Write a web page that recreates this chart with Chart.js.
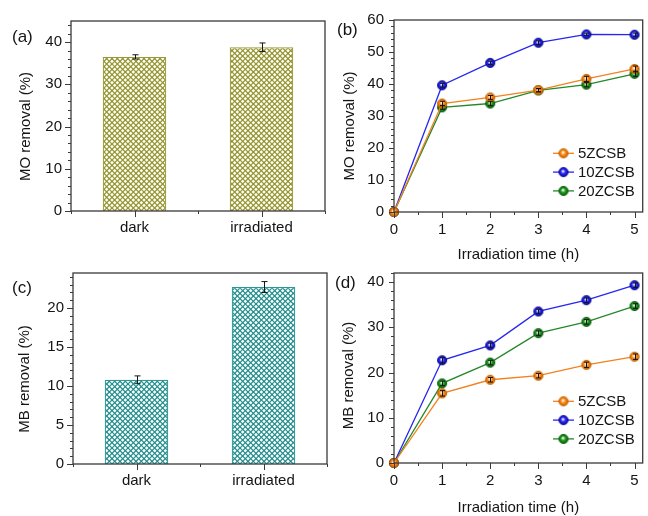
<!DOCTYPE html>
<html>
<head>
<meta charset="utf-8">
<script src="https://cdn.jsdelivr.net/npm/chart.js@4.4.1/dist/chart.umd.min.js"></script>
<style>
  html, body { margin: 0; padding: 0; background: #ffffff; }
  #wrap { position: relative; width: 648px; height: 516px; overflow: hidden; background: #ffffff; }
  #wrap canvas { position: absolute; left: 0; top: 0; }
</style>
</head>
<body>
<div id="wrap">
  <canvas id="panelA" width="648" height="516"></canvas>
  <canvas id="panelB" width="648" height="516"></canvas>
  <canvas id="panelC" width="648" height="516"></canvas>
  <canvas id="panelD" width="648" height="516"></canvas>
</div>
<script>
// ---- data ----
const barCategories = ['dark', 'irradiated'];
const moBarValues = [36.5, 38.8];
const moBarErrors = [0.5, 1.0];
const mbBarValues = [10.8, 22.7];
const mbBarErrors = [0.5, 0.7];

const timeHours = [0, 1, 2, 3, 4, 5];
const seriesNames = ['5ZCSB', '10ZCSB', '20ZCSB'];

const mo5 = [0, 33.9, 35.8, 38.1, 41.6, 44.7];
const mo10 = [0, 39.6, 46.6, 52.9, 55.5, 55.4];
const mo20 = [0, 32.7, 33.9, 38.0, 39.8, 43.2];
const mo5Err = [0, 0.7, 0.6, 0.5, 0.8, 0.9];
const mo10Err = [0, 0.6, 0.5, 0.6, 0.4, 0.5];
const mo20Err = [0, 0.6, 0.7, 0.5, 0.7, 0.8];

const mb5 = [0, 15.4, 18.4, 19.3, 21.7, 23.5];
const mb10 = [0, 22.7, 26.0, 33.5, 36.0, 39.3];
const mb20 = [0, 17.6, 22.2, 28.7, 31.2, 34.7];
const mb5Err = [0, 0.6, 0.5, 0.5, 0.6, 0.6];
const mb10Err = [0, 0.6, 0.5, 0.5, 0.5, 0.5];
const mb20Err = [0, 0.5, 0.5, 0.5, 0.5, 0.5];

const moBarTicks = [0, 10, 20, 30, 40];
const mbBarTicks = [0, 5, 10, 15, 20];
const moLineTicks = [0, 10, 20, 30, 40, 50, 60];
const mbLineTicks = [0, 10, 20, 30, 40];
const hourTicks = [0, 1, 2, 3, 4, 5];

// ---- styling helpers ----
const FONT = '"Liberation Sans", Arial, Helvetica, sans-serif';
const AXIS = '#3a3a3a';
const TEXT = '#141414';

function hatchPattern(color) {
  const s = 16;
  const c = document.createElement('canvas');
  c.width = s; c.height = s;
  const g = c.getContext('2d');
  g.fillStyle = '#ffffff';
  g.fillRect(0, 0, s, s);
  g.strokeStyle = color;
  g.lineWidth = 1.15;
  const step = s / 3;
  for (let k = -6; k <= 6; k++) {
    const o = k * step;
    g.beginPath(); g.moveTo(o, 0); g.lineTo(o + s, s); g.stroke();
    g.beginPath(); g.moveTo(o, s); g.lineTo(o + s, 0); g.stroke();
  }
  return g.createPattern(c, 'repeat');
}

function sphere(body, rim) {
  const s = 12, r = 4.6;
  const c = document.createElement('canvas');
  c.width = s; c.height = s;
  const g = c.getContext('2d');
  const grd = g.createRadialGradient(s / 2 - 0.6, s / 2 - 1.0, 0.3, s / 2, s / 2, r);
  grd.addColorStop(0, '#ffffff');
  grd.addColorStop(0.45, body);
  grd.addColorStop(1, rim);
  g.fillStyle = grd;
  g.beginPath(); g.arc(s / 2, s / 2, r, 0, Math.PI * 2); g.fill();
  g.strokeStyle = rim; g.lineWidth = 0.9;
  g.stroke();
  return c;
}

const seriesStyle = [
  { line: '#F2811E', img: sphere('#FF8C1C', '#C46200') },
  { line: '#2626F2', img: sphere('#2A2AFF', '#0A0A96') },
  { line: '#24882A', img: sphere('#1FA01F', '#0A5C0A') }
];

// frame, ticks, error bars, legend and text
const decor = {
  id: 'decor',
  afterDatasetsDraw(chart, args, o) {
    const ctx = chart.ctx, ys = chart.scales.y;
    ctx.save();
    ctx.strokeStyle = '#151515';
    ctx.lineWidth = 1;
    (o.errors || []).forEach((errs, di) => {
      const meta = chart.getDatasetMeta(di);
      const ds = chart.data.datasets[di];
      meta.data.forEach((el, i) => {
        const e = errs[i];
        if (!e) return;
        const raw = ds.data[i];
        const v = typeof raw === 'object' ? raw.y : raw;
        const px = Math.round(el.x) + 0.5;
        const top = ys.getPixelForValue(v + e), bot = ys.getPixelForValue(v - e);
        const cap = o.capHalf;
        ctx.beginPath();
        ctx.moveTo(px, top); ctx.lineTo(px, bot);
        ctx.moveTo(px - cap, top); ctx.lineTo(px + cap, top);
        ctx.moveTo(px - cap, bot); ctx.lineTo(px + cap, bot);
        ctx.stroke();
      });
    });
    ctx.restore();
  },
  afterDraw(chart, args, o) {
    const ctx = chart.ctx, a = chart.chartArea;
    const xs = chart.scales.x, ys = chart.scales.y;
    ctx.save();
    // frame
    ctx.strokeStyle = AXIS;
    ctx.lineWidth = 1.3;
    ctx.strokeRect(a.left, a.top, a.right - a.left, a.bottom - a.top);
    // y ticks (outward)
    ctx.lineWidth = 1;
    const n = Math.round(ys.max / o.yMinor);
    for (let i = 0; i <= n; i++) {
      const v = i * o.yMinor;
      if (v > ys.max + 1e-9) break;
      const major = Math.abs(v / o.yMajor - Math.round(v / o.yMajor)) < 1e-6;
      const py = Math.round(ys.getPixelForValue(v)) + 0.5;
      const len = major ? o.yMajorLen : 3;
      ctx.beginPath(); ctx.moveTo(a.left - len, py); ctx.lineTo(a.left, py); ctx.stroke();
    }
    // x ticks (outward)
    o.xTicks.forEach(t => {
      const px = Math.round(xs.getPixelForValue(t.v)) + 0.5;
      const len = t.major ? 6 : 3;
      ctx.beginPath(); ctx.moveTo(px, a.bottom); ctx.lineTo(px, a.bottom + len); ctx.stroke();
    });
    ctx.fillStyle = TEXT;
    // panel letter
    ctx.font = '17px ' + FONT;
    ctx.textAlign = 'left';
    ctx.textBaseline = 'alphabetic';
    ctx.fillText(o.letter, o.letterX, o.letterY);
    // axis titles
    ctx.font = '15px ' + FONT;
    ctx.textAlign = 'center';
    if (o.xTitle) ctx.fillText(o.xTitle, (a.left + a.right) / 2, o.xTitleY);
    ctx.save();
    ctx.translate(o.yTitleX, o.yTitleY);
    ctx.rotate(-Math.PI / 2);
    ctx.fillText(o.yTitle, 0, 0);
    ctx.restore();
    // legend
    if (o.legend) {
      const L = o.legend;
      chart.data.datasets.forEach((ds, i) => {
        const ry = L.y + i * L.gap;
        ctx.strokeStyle = ds.borderColor;
        ctx.lineWidth = 1.3;
        ctx.beginPath(); ctx.moveTo(L.x, ry); ctx.lineTo(L.x + 21, ry); ctx.stroke();
        const img = ds.pointStyle;
        ctx.drawImage(img, L.x + 10.5 - img.width / 2, ry - img.height / 2);
        ctx.fillStyle = TEXT;
        ctx.textAlign = 'left';
        ctx.textBaseline = 'middle';
        ctx.font = '15px ' + FONT;
        ctx.fillText(ds.label, L.x + 25, ry + 1);
      });
    }
    ctx.restore();
  }
};

function layoutFor(box, xAxisH) {
  return {
    padding: { left: 0, top: box.top, right: 648 - box.right, bottom: 516 - box.bottom - xAxisH }
  };
}

function yScale(box, max, ticks, pad) {
  return {
    type: 'linear', min: 0, max: max,
    afterBuildTicks: s => { s.ticks = ticks.map(v => ({ value: v })); },
    afterFit: s => { s.width = box.left; },
    grid: { display: false, drawTicks: false },
    border: { display: false },
    ticks: { color: TEXT, font: { family: FONT, size: 15 }, padding: pad }
  };
}

function barChart(id, box, values, errors, fill, edge, yMax, yTicks, yMinor, yMajor, text) {
  return new Chart(document.getElementById(id), {
    type: 'bar',
    data: {
      labels: barCategories,
      datasets: [{
        data: values,
        backgroundColor: fill,
        borderColor: edge,
        borderWidth: 1.2,
        barPercentage: 0.5,
        categoryPercentage: 1
      }]
    },
    options: {
      responsive: false, animation: false, devicePixelRatio: 1,
      layout: layoutFor(box, 40),
      scales: {
        x: {
          type: 'category', offset: true,
          afterFit: s => { s.height = 40; },
          grid: { display: false, drawTicks: false },
          border: { display: false },
          ticks: { color: TEXT, font: { family: FONT, size: 15 }, padding: 8 }
        },
        y: yScale(box, yMax, yTicks, 9)
      },
      plugins: {
        legend: { display: false }, tooltip: { enabled: false },
        decor: Object.assign({
          errors: [errors], capHalf: 3,
          yMinor: yMinor, yMajor: yMajor, yMajorLen: 6,
          xTicks: [{ v: -0.5, major: false }, { v: 0, major: true }, { v: 0.5, major: false }, { v: 1, major: true }, { v: 1.5, major: false }]
        }, text)
      }
    },
    plugins: [decor]
  });
}

function lineChart(id, box, series, errs, yMax, yTicks, text) {
  const hourMinor = [];
  for (let i = 0; i <= 10; i++) hourMinor.push({ v: i / 2, major: i % 2 === 0 });
  return new Chart(document.getElementById(id), {
    type: 'line',
    data: {
      datasets: series.map((vals, si) => ({
        label: seriesNames[si],
        data: timeHours.map((t, i) => ({ x: t, y: vals[i] })),
        borderColor: seriesStyle[si].line,
        backgroundColor: seriesStyle[si].line,
        borderWidth: 1.3,
        pointStyle: seriesStyle[si].img,
        tension: 0,
        clip: false
      }))
    },
    options: {
      responsive: false, animation: false, devicePixelRatio: 1,
      layout: layoutFor(box, 40),
      scales: {
        x: {
          type: 'linear', min: 0, max: 5.17,
          afterBuildTicks: s => { s.ticks = hourTicks.map(v => ({ value: v })); },
          afterFit: s => { s.height = 40; },
          grid: { display: false, drawTicks: false },
          border: { display: false },
          ticks: { color: TEXT, font: { family: FONT, size: 15 }, padding: 9 }
        },
        y: yScale(box, yMax, yTicks, 10)
      },
      plugins: {
        legend: { display: false }, tooltip: { enabled: false },
        decor: Object.assign({
          errors: errs, capHalf: 2.5,
          yMinor: 2, yMajor: 10, yMajorLen: 5,
          xTicks: hourMinor
        }, text)
      }
    },
    plugins: [decor]
  });
}

// (a) MO removal, bars
barChart('panelA', { left: 71, top: 21, right: 325, bottom: 211 },
  moBarValues, moBarErrors, hatchPattern('#929228'), '#9A9A3A', 45, moBarTicks, 2, 10,
  { letter: '(a)', letterX: 12, letterY: 42, yTitle: 'MO removal (%)', yTitleX: 29.5, yTitleY: 126.5 });

// (b) MO removal vs irradiation time
lineChart('panelB', { left: 394, top: 20, right: 647, bottom: 212 },
  [mo5, mo10, mo20], [mo5Err, mo10Err, mo20Err], 60, moLineTicks,
  { letter: '(b)', letterX: 337, letterY: 34.5, yTitle: 'MO removal (%)', yTitleX: 353.5, yTitleY: 126,
    xTitle: 'Irradiation time (h)', xTitleY: 258.5, legend: { x: 553, y: 153.3, gap: 18.8 } });

// (c) MB removal, bars
barChart('panelC', { left: 73, top: 273, right: 327, bottom: 464 },
  mbBarValues, mbBarErrors, hatchPattern('#1E8C8A'), '#2A9A96', 24.5, mbBarTicks, 1, 5,
  { letter: '(c)', letterX: 12, letterY: 292.5, yTitle: 'MB removal (%)', yTitleX: 28.5, yTitleY: 379 });

// (d) MB removal vs irradiation time
lineChart('panelD', { left: 394, top: 273, right: 647, bottom: 463 },
  [mb5, mb10, mb20], [mb5Err, mb10Err, mb20Err], 42, mbLineTicks,
  { letter: '(d)', letterX: 335, letterY: 288, yTitle: 'MB removal (%)', yTitleX: 352.5, yTitleY: 375.5,
    xTitle: 'Irradiation time (h)', xTitleY: 512, legend: { x: 553, y: 401.3, gap: 18.8 } });
</script>
</body>
</html>
